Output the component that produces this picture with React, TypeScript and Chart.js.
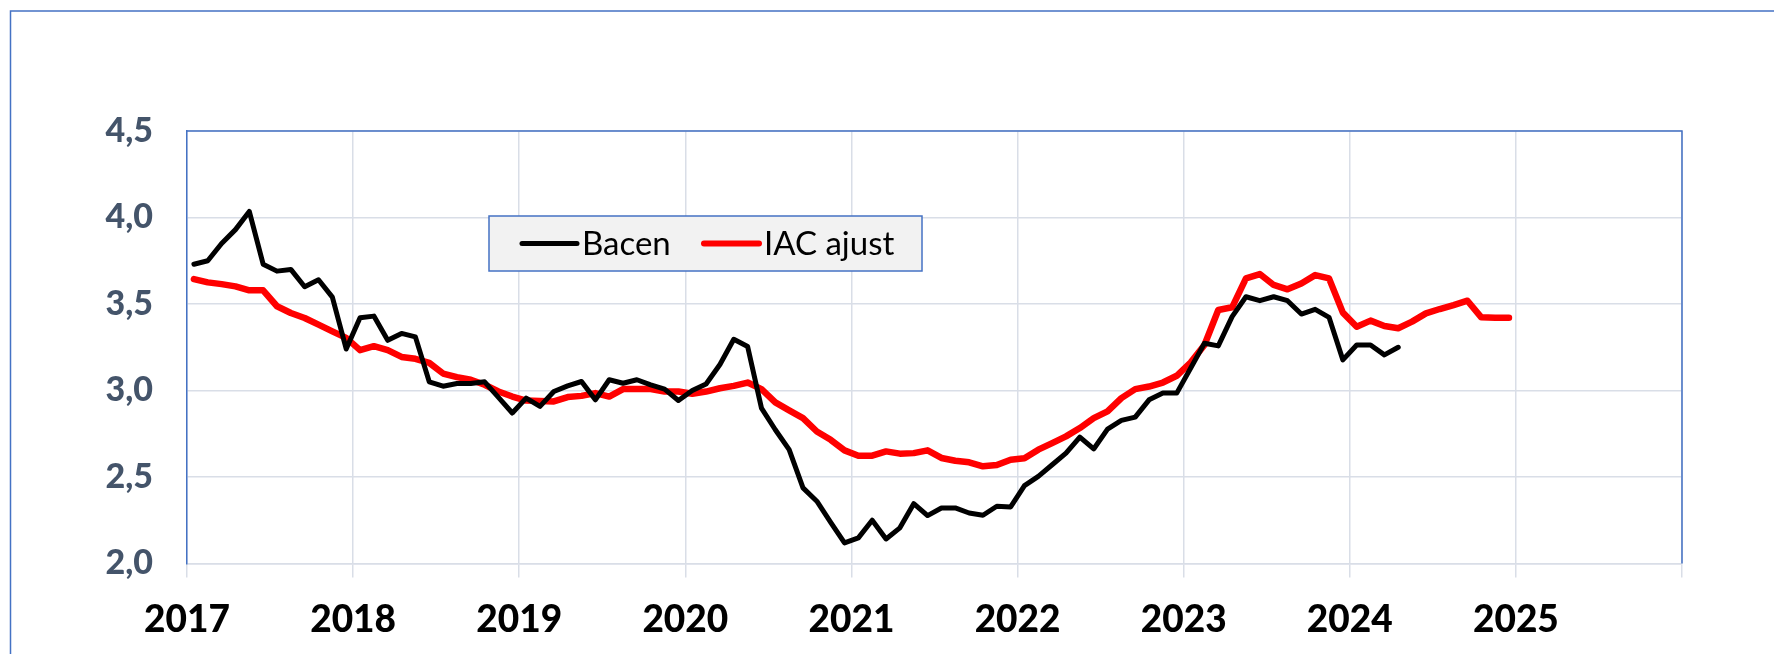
import React, { useEffect, useRef } from "react";
import { Chart, registerables } from "chart.js";

Chart.register(...registerables);

// Monthly series, starting Jan 2017
const START_YEAR = 2017;

const bacen: number[] = [
  // 2017
  3.73, 3.75, 3.85, 3.93, 4.035, 3.73, 3.69, 3.70, 3.60, 3.64, 3.54, 3.24,
  // 2018
  3.42, 3.43, 3.29, 3.33, 3.31, 3.05, 3.025, 3.04, 3.04, 3.05, 2.96, 2.87,
  // 2019
  2.956, 2.908, 2.994, 3.027, 3.052, 2.946, 3.062, 3.042, 3.062, 3.033, 3.008, 2.942,
  // 2020
  3.0, 3.038, 3.15, 3.296, 3.254, 2.898, 2.773, 2.658, 2.437, 2.36, 2.238, 2.119,
  // 2021
  2.148, 2.25, 2.142, 2.206, 2.346, 2.277, 2.321, 2.321, 2.292, 2.279, 2.331, 2.327,
  // 2022
  2.45, 2.504, 2.571, 2.638, 2.731, 2.662, 2.777, 2.827, 2.846, 2.946, 2.985, 2.985,
  // 2023
  3.129, 3.273, 3.258, 3.427, 3.542, 3.519, 3.542, 3.519, 3.442, 3.469, 3.423, 3.177,
  // 2024
  3.263, 3.263, 3.206, 3.25,
];

const iacAjust: number[] = [
  // 2017
  3.644, 3.625, 3.615, 3.602, 3.579, 3.579, 3.487, 3.448, 3.419, 3.381, 3.342, 3.304,
  // 2018
  3.233, 3.256, 3.233, 3.194, 3.183, 3.16, 3.098, 3.077, 3.062, 3.033, 2.994, 2.965,
  // 2019
  2.942, 2.94, 2.937, 2.962, 2.969, 2.985, 2.965, 3.008, 3.008, 3.008, 2.994, 2.994,
  // 2020
  2.981, 2.994, 3.013, 3.027, 3.046, 3.008, 2.931, 2.885, 2.84, 2.763, 2.715, 2.654,
  // 2021
  2.623, 2.623, 2.648, 2.635, 2.638, 2.654, 2.61, 2.594, 2.585, 2.562, 2.569, 2.6,
  // 2022
  2.608, 2.658, 2.696, 2.735, 2.783, 2.84, 2.879, 2.956, 3.008, 3.023, 3.046, 3.085,
  // 2023
  3.162, 3.263, 3.465, 3.481, 3.648, 3.673, 3.61, 3.585, 3.619, 3.667, 3.648, 3.45,
  // 2024
  3.369, 3.404, 3.373, 3.36, 3.398, 3.446, 3.471, 3.494, 3.519, 3.423, 3.421, 3.421,
];

const yearTicks: number[] = [2017, 2018, 2019, 2020, 2021, 2022, 2023, 2024, 2025, 2026];
const yearLabels: string[] = ["2017", "2018", "2019", "2020", "2021", "2022", "2023", "2024", "2025", ""];
const valueTicks: number[] = [2.0, 2.5, 3.0, 3.5, 4.0, 4.5];
const valueLabels: string[] = ["2,0", "2,5", "3,0", "3,5", "4,0", "4,5"];
const seriesNames: string[] = ["Bacen", "IAC ajust"];

const W = 1774;
const H = 654;
const BLUE = "#4472C4";
const GRID = "#D9DEE7";
const FONT = "Lato, 'Open Sans', sans-serif";

const toPoints = (arr: number[]) =>
  arr.map((v, i) => ({ x: START_YEAR + (i + 0.5) / 12, y: v }));

const framePlugin = {
  id: "frame",
  beforeDatasetsDraw(chart: any) {
    const { ctx, chartArea } = chart;
    ctx.save();
    ctx.strokeStyle = BLUE;
    ctx.lineWidth = 1.5;
    ctx.beginPath();
    ctx.moveTo(chartArea.left, chartArea.top);
    ctx.lineTo(chartArea.right, chartArea.top);
    ctx.lineTo(chartArea.right, chartArea.bottom);
    ctx.stroke();
    // outer frame (left and top edges visible)
    ctx.beginPath();
    ctx.moveTo(10.5, H);
    ctx.lineTo(10.5, 11);
    ctx.lineTo(W, 11);
    ctx.stroke();
    ctx.restore();
  },
  afterDraw(chart: any) {
    const { ctx } = chart;
    ctx.save();
    // legend box
    const bx = 489, by = 216, bw = 433, bh = 55;
    ctx.fillStyle = "#F2F2F2";
    ctx.fillRect(bx, by, bw, bh);
    ctx.strokeStyle = BLUE;
    ctx.lineWidth = 1.5;
    ctx.strokeRect(bx, by, bw, bh);
    const cy = by + bh / 2;
    const items = [
      { x: 522, color: "#000000", w: 5 },
      { x: 704, color: "#FF0000", w: 6 },
    ];
    items.forEach((it, k) => {
      ctx.strokeStyle = it.color;
      ctx.lineWidth = it.w;
      ctx.lineCap = "round";
      ctx.beginPath();
      ctx.moveTo(it.x, cy);
      ctx.lineTo(it.x + 55, cy);
      ctx.stroke();
      ctx.fillStyle = "#000";
      ctx.font = `normal 33px ${FONT}`;
      ctx.textBaseline = "middle";
      ctx.textAlign = "left";
      ctx.fillText(seriesNames[k], it.x + 60, cy + 1);
    });
    ctx.restore();
  },
};

export default function App() {
  const ref = useRef<HTMLCanvasElement | null>(null);

  useEffect(() => {
    if (!ref.current) return;
    const chart = new Chart(ref.current, {
      type: "line",
      data: {
        datasets: [
          {
            label: seriesNames[0],
            data: toPoints(bacen),
            borderColor: "#000000",
            borderWidth: 5,
            pointRadius: 0,
            tension: 0,
            borderCapStyle: "round",
            borderJoinStyle: "round",
          },
          {
            label: seriesNames[1],
            data: toPoints(iacAjust),
            borderColor: "#FF0000",
            borderWidth: 6.5,
            pointRadius: 0,
            tension: 0,
            borderCapStyle: "round",
            borderJoinStyle: "round",
          },
        ],
      },
      options: {
        responsive: false,
        animation: false,
        events: [],
        layout: { padding: { left: 0, right: W - 1682, top: 131, bottom: 0 } },
        plugins: {
          legend: { display: false },
          tooltip: { enabled: false },
        },
        scales: {
          x: {
            type: "linear",
            min: 2017,
            max: 2026,
            afterBuildTicks: (s: any) => {
              s.ticks = yearTicks.map((v) => ({ value: v }));
            },
            afterFit: (s: any) => {
              s.height = H - 563.5;
            },
            ticks: {
              autoSkip: false,
              maxRotation: 0,
              minRotation: 0,
              padding: 20,
              color: "#000000",
              font: { family: FONT, weight: "900", size: 37 },
              callback: (v: any) => yearLabels[yearTicks.indexOf(Number(v))] ?? "",
            },
            grid: { color: GRID, lineWidth: 1.5, tickLength: 14, drawTicks: true },
            border: { color: GRID, width: 1.5 },
          },
          y: {
            min: 2,
            max: 4.5,
            afterBuildTicks: (s: any) => {
              s.ticks = valueTicks.map((v) => ({ value: v }));
            },
            afterFit: (s: any) => {
              s.width = 187;
            },
            ticks: {
              padding: 34,
              color: "#44546A",
              font: { family: FONT, weight: "900", size: 34 },
              callback: (v: any) => {
                const idx = valueTicks.findIndex((t) => Math.abs(t - Number(v)) < 1e-6);
                return idx >= 0 ? valueLabels[idx] : "";
              },
            },
            grid: { color: GRID, lineWidth: 1.5, drawTicks: false },
            border: { color: BLUE, width: 1.5 },
          },
        },
      },
      plugins: [framePlugin],
    } as any);
    return () => chart.destroy();
  }, []);

  return (
    <div style={{ position: "fixed", left: 0, top: 0, width: W, height: H, background: "#fff" }}>
      <canvas ref={ref} width={W} height={H} style={{ width: W, height: H, display: "block" }} />
    </div>
  );
}
